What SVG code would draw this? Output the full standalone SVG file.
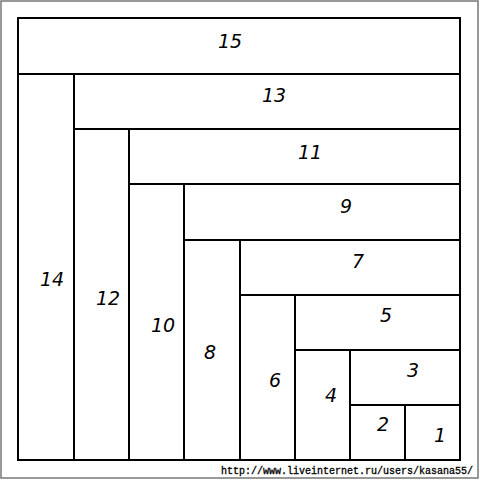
<svg xmlns="http://www.w3.org/2000/svg" width="480" height="480" viewBox="0 0 480 480">
<style>
.p{fill:#fff;stroke:#000;stroke-width:2}
.t{font-family:"DejaVu Sans",sans-serif;font-style:italic;font-size:19px;fill:#000;text-anchor:middle}
.u{font-family:"Liberation Mono",monospace;font-size:10px;fill:#000;stroke:#000;stroke-width:0.3}
</style>
<rect width="480" height="480" fill="#fff"/>
<rect x="1" y="1" width="477" height="477" fill="none" stroke="#777" stroke-width="1.5"/>
<g id="n15"><rect class="p" x="18" y="18" width="442" height="56"/><text class="t" x="230" y="48">15</text></g>
<g id="n14"><rect class="p" x="18" y="74" width="56" height="386"/><text class="t" x="52" y="286">14</text></g>
<g id="n13"><rect class="p" x="74" y="74" width="386" height="55"/><text class="t" x="274" y="102">13</text></g>
<g id="n12"><rect class="p" x="74" y="129" width="55" height="331"/><text class="t" x="108" y="305">12</text></g>
<g id="n11"><rect class="p" x="129" y="129" width="331" height="55"/><text class="t" x="310" y="159">11</text></g>
<g id="n10"><rect class="p" x="129" y="184" width="55" height="276"/><text class="t" x="163" y="332">10</text></g>
<g id="n9"><rect class="p" x="184" y="184" width="276" height="56"/><text class="t" x="346" y="213">9</text></g>
<g id="n8"><rect class="p" x="184" y="240" width="56" height="220"/><text class="t" x="210" y="359">8</text></g>
<g id="n7"><rect class="p" x="240" y="240" width="220" height="55"/><text class="t" x="358" y="268">7</text></g>
<g id="n6"><rect class="p" x="240" y="295" width="55" height="165"/><text class="t" x="275" y="387">6</text></g>
<g id="n5"><rect class="p" x="295" y="295" width="165" height="55"/><text class="t" x="386" y="322">5</text></g>
<g id="n4"><rect class="p" x="295" y="350" width="55" height="110"/><text class="t" x="331" y="402">4</text></g>
<g id="n3"><rect class="p" x="350" y="350" width="110" height="55"/><text class="t" x="413" y="377">3</text></g>
<g id="n2"><rect class="p" x="350" y="405" width="55" height="55"/><text class="t" x="383" y="431">2</text></g>
<g id="n1"><rect class="p" x="405" y="405" width="55" height="55"/><text class="t" x="440" y="442">1</text></g>
<g id="connectors"></g>
<rect x="219" y="462" width="258" height="15" fill="#fff"/>
<text class="u" x="221" y="474">http://www.liveinternet.ru/users/kasana55/</text>
</svg>
